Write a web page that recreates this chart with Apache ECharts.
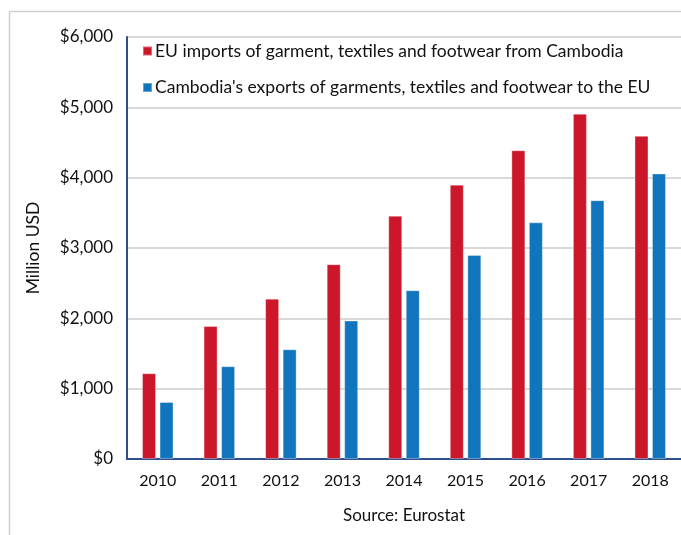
<!DOCTYPE html>
<html><head><meta charset="utf-8">
<script src="https://cdn.jsdelivr.net/npm/echarts@6/dist/echarts.min.js"></script>
<style>html,body{margin:0;padding:0;background:#fff}#c{width:681px;height:535px}</style>
</head><body><div id="c"></div>
<script>
var years = ['2010','2011','2012','2013','2014','2015','2016','2017','2018'];
var euImports = [1220, 1890, 2280, 2770, 3460, 3900, 4390, 4910, 4595];
var cambodiaExports = [810, 1320, 1560, 1970, 2400, 2900, 3365, 3680, 4060];
var seriesNames = ['EU imports of garment, textiles and footwear from Cambodia',
                   "Cambodia's exports of garments, textiles and footwear to the EU"];
var FONT = 'Lato';
var chart = echarts.init(document.getElementById('c'), null, {renderer:'canvas'});
chart.setOption({
  animation:false,
  textStyle:{fontFamily:FONT},
  graphic:[{type:'rect', shape:{x:9.5,y:11.5,width:700,height:560}, style:{fill:'none',stroke:'#cfcfcf',lineWidth:1.5}, z:-1}],
  grid:{left:127, right:0, top:37, bottom:76},
  legend:{orient:'vertical', left:142, top:42, padding:0, itemWidth:9, itemHeight:9, itemGap:18.5,
    icon:'rect', textStyle:{fontFamily:FONT, fontSize:17.5, color:'#111', padding:[0,0,0,-2]}, data:seriesNames},
  xAxis:{type:'category', data:years,
    axisLine:{lineStyle:{color:'#2F4E8C', width:2}}, axisTick:{show:false},
    axisLabel:{fontSize:16, color:'#111', margin:14},
    name:'Source: Eurostat', nameLocation:'middle', nameGap:48,
    nameTextStyle:{fontSize:17, color:'#111'}},
  yAxis:{type:'value', min:0, max:6000, interval:1000,
    axisLine:{show:true, lineStyle:{color:'#2F4E8C', width:2}}, axisTick:{show:false},
    splitLine:{lineStyle:{color:'#d9d9d9', width:2}},
    axisLabel:{fontSize:17, color:'#111', margin:14, formatter:function(v){return '$'+v.toLocaleString('en-US');}},
    name:'Million USD', nameLocation:'middle', nameGap:85, nameRotate:90,
    nameTextStyle:{fontSize:17.5, color:'#111'}},
  series:[
    {name:seriesNames[0], type:'bar', data:euImports, barWidth:14, barGap:'25%',
     itemStyle:{color:'#CB1729', borderColor:'rgba(255,255,255,0.35)', borderWidth:1}},
    {name:seriesNames[1], type:'bar', data:cambodiaExports, barWidth:14, barGap:'25%',
     itemStyle:{color:'#1175BD', borderColor:'rgba(255,255,255,0.35)', borderWidth:1}}
  ]
});
</script></body></html>
